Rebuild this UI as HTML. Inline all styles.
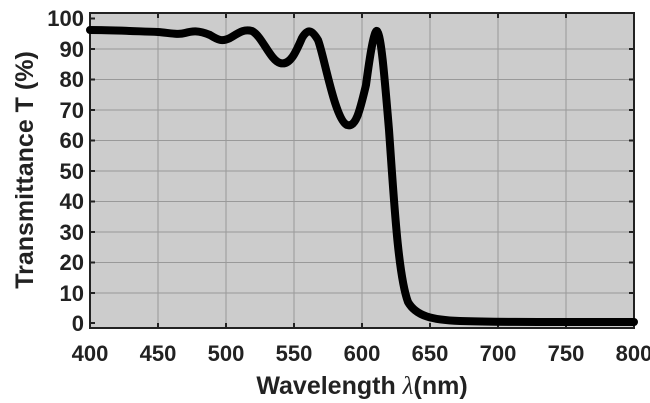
<!DOCTYPE html><html><head><style>body{margin:0;background:#fff}svg{display:block}text{font-family:"Liberation Sans",sans-serif;font-weight:bold;fill:#222}</style></head><body>
<svg width="650" height="403" viewBox="0 0 650 403">
<rect x="90" y="13" width="544" height="315" fill="#cccccc" stroke="#222" stroke-width="2"/>
<g stroke="#999" stroke-width="1">
<line x1="158" y1="13" x2="158" y2="328"/><line x1="226" y1="13" x2="226" y2="328"/><line x1="294" y1="13" x2="294" y2="328"/><line x1="362" y1="13" x2="362" y2="328"/><line x1="430" y1="13" x2="430" y2="328"/><line x1="498" y1="13" x2="498" y2="328"/><line x1="566" y1="13" x2="566" y2="328"/>
<line x1="90" y1="49" x2="634" y2="49"/><line x1="90" y1="79.5" x2="634" y2="79.5"/><line x1="90" y1="110" x2="634" y2="110"/><line x1="90" y1="140.5" x2="634" y2="140.5"/><line x1="90" y1="171" x2="634" y2="171"/><line x1="90" y1="201.5" x2="634" y2="201.5"/><line x1="90" y1="232" x2="634" y2="232"/><line x1="90" y1="262.5" x2="634" y2="262.5"/><line x1="90" y1="293" x2="634" y2="293"/>
</g>
<g stroke="#222" stroke-width="2">
<path d="M158,328v-5M226,328v-5M294,328v-5M362,328v-5M430,328v-5M498,328v-5M566,328v-5M158,13v5M226,13v5M294,13v5M362,13v5M430,13v5M498,13v5M566,13v5"/>
<path d="M90,18.5h5M90,49h5M90,79.5h5M90,110h5M90,140.5h5M90,171h5M90,201.5h5M90,232h5M90,262.5h5M90,293h5M90,323h5M634,49h-5M634,79.5h-5M634,110h-5M634,140.5h-5M634,171h-5M634,201.5h-5M634,232h-5M634,262.5h-5M634,293h-5"/>
</g>
<path d="M90,30 C110,30 130,31 158,32 C170,33 178,35 185,33 C192,31 198,30 210,35 C218,40 222,42 230,38 C240,32 244,29 252,31 C262,36 270,60 280,63 C290,66 296,52 302,38 C308,28 312,30 318,40 C324,55 335,120 347,125 C356,128 360,110 366,85 C370,55 374,30 377,31 C381,35 384,70 389,130 C394,200 398,275 408,302 C416,316 432,320 460,321 C490,322 520,322 634,322" fill="none" stroke="#000" stroke-width="8" stroke-linejoin="round" stroke-linecap="round"/>
<g font-size="22" text-anchor="end">
<text x="84" y="26">100</text><text x="84" y="57">90</text><text x="84" y="87">80</text><text x="84" y="118">70</text><text x="84" y="148">60</text><text x="84" y="179">50</text><text x="84" y="209">40</text><text x="84" y="240">30</text><text x="84" y="270">20</text><text x="84" y="301">10</text><text x="84" y="331">0</text>
</g>
<g font-size="22" text-anchor="middle">
<text x="90" y="361">400</text><text x="158" y="361">450</text><text x="226" y="361">500</text><text x="294" y="361">550</text><text x="362" y="361">600</text><text x="430" y="361">650</text><text x="498" y="361">700</text><text x="566" y="361">750</text><text x="634" y="361">800</text>
</g>
<text x="362" y="394" font-size="25" text-anchor="middle">Wavelength <tspan font-family="Liberation Serif" font-weight="normal" font-style="italic">λ</tspan>(nm)</text>
<text transform="translate(33,170) rotate(-90)" font-size="25" text-anchor="middle">Transmittance T (%)</text>
</svg></body></html>
